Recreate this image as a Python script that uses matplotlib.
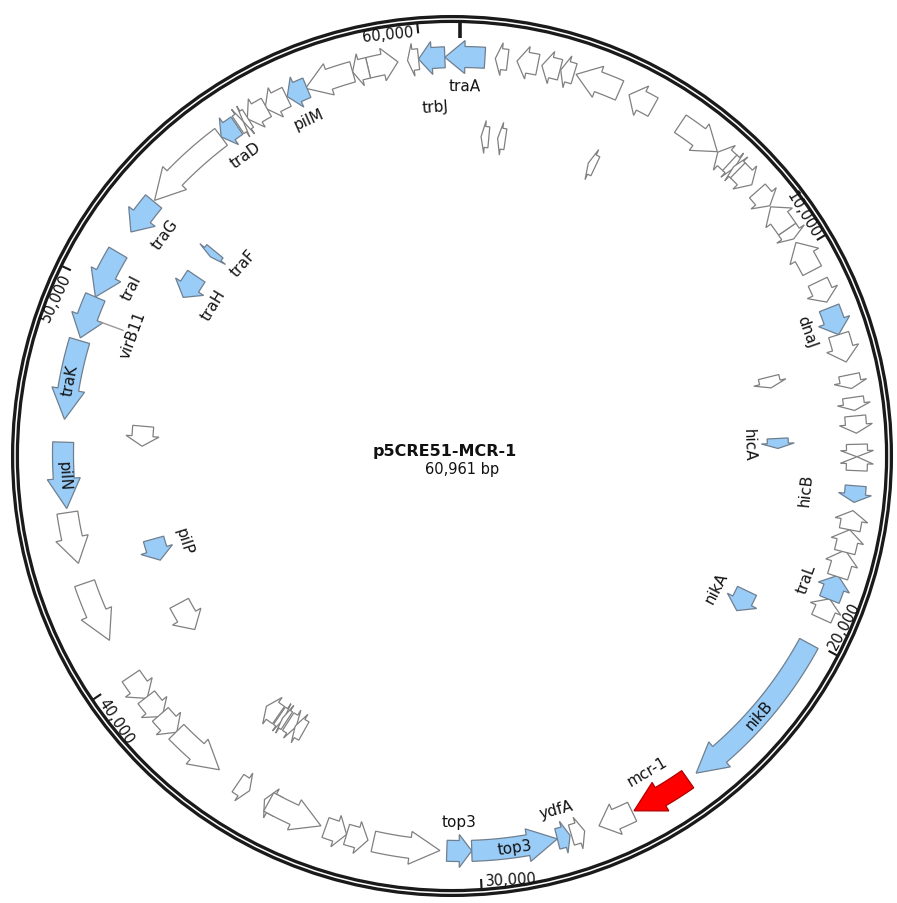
import numpy as np
import matplotlib.pyplot as plt
from matplotlib.patches import Polygon, Circle

TOTAL = 60961
CX, CY = 460, 455
RING_C = (452, 457)
R_RING = 437
TRACK_R = [397, 318]

# gene table: start/end in bp, strand, track (0 outer, 1 inner), kind, label, label mode
gene_start = [60590, 59946, 59675, 58693, 58303, 57084, 56594, 55984, 55476, 55205, 55357,
              54697, 52444, 51479, 49667, 48601, 46569, 44384, 43012, 40980, 39287, 38711,
              38186, 36798, 35900, 35087, 33953, 33292, 32750, 30972, 30193, 28077, 27755,
              27382, 26129, 24554, 20067, 18864, 18255, 17611, 17103, 16629, 16019, 15003,
              15308, 14309, 13852, 13293, 12277, 11583, 10888, 9788, 9398, 8721, 8213,
              6858, 7248, 7383, 7519, 5707, 4267, 2879, 2489, 2015, 1397, 864,
              643, 1151, 4030, 12870, 14766, 19558, 36374, 36171, 36069, 35730, 35459,
              40048, 42419, 45958, 50716, 52207]
gene_end = [610, 60590, 59946, 59438, 58693, 58303, 57118, 56577, 56018, 55357, 55493,
            55171, 54697, 52410, 50887, 49667, 48533, 46010, 44283, 42504, 39964, 39321,
            38779, 38203, 36239, 35477, 35358, 33834, 33292, 32615, 30803, 30193, 28077,
            27721, 27010, 26078, 24300, 19389, 18881, 18289, 17662, 17103, 16426, 15308,
            15647, 14732, 14174, 13632, 12971, 12277, 11430, 10584, 9686, 9398, 8687,
            7282, 7417, 7553, 8010, 6841, 4928, 4013, 2828, 2472, 1914, 1168,
            881, 1389, 4267, 13208, 15071, 20236, 36831, 36340, 36221, 36018, 35764,
            40980, 43097, 46569, 51478, 52427]
gene_strand = [-1, -1, -1, 1, -1, -1, -1, -1, -1, 1, -1,
               -1, -1, -1, -1, -1, -1, -1, -1, -1, -1, -1,
               -1, -1, -1, 1, -1, -1, -1, -1, -1, -1, -1,
               -1, 1, 1, 1, -1, -1, -1, -1, -1, 1, 1,
               -1, 1, 1, 1, 1, 1, 1, -1, 1, -1, 1,
               -1, 1, -1, 1, 1, -1, -1, -1, -1, -1, -1,
               -1, -1, -1, 1, 1, 1, 1, -1, 1, -1, 1,
               -1, -1, -1, -1, -1]
gene_track = [0] * 66 + [1] * 16
gene_kind = ['o'] * 82
gene_label = [''] * 82
label_mode = [0] * 82
label_shift = [0.0] * 82

named = {0: ('traA', 1), 1: ('trbJ', 2), 6: ('pilM', 1), 11: ('traD', 1), 13: ('traG', 1),
         14: ('traI', 1), 15: ('virB11', 3), 16: ('traK', 9), 17: ('pilN', 9),
         30: ('top3', 1), 31: ('top3', 9), 32: ('ydfA', 1), 35: ('mcr-1', 1),
         36: ('nikB', 9), 38: ('traL', 1), 42: ('hicB', 2), 49: ('dnaJ', 1),
         70: ('hicA', 1), 71: ('nikA', 1), 78: ('pilP', 1), 80: ('traH', 1), 81: ('traF', 1)}
for i, (nm, md) in named.items():
    gene_label[i] = nm
    label_mode[i] = md
    gene_kind[i] = 'b'
gene_kind[35] = 'r'
label_shift[81] = 2.5
label_shift[80] = -0.5

fills = {'o': 'white', 'b': '#99ccf7', 'r': '#ff0000'}
edges = {'o': '#808080', 'b': '#6f7f8f', 'r': '#b00000'}

tick_pos = [0, 10000, 20000, 30000, 40000, 50000, 60000]
title = 'p5CRE51-MCR-1'
subtitle = '60,961 bp'


def ang(bp):
    return bp / TOTAL * 360.0


def pol(a, r):
    t = np.radians(a)
    return (CX + r * np.sin(t), CY - r * np.cos(t))


def ring_hit(a):
    # distance along the ray from the map centre to the backbone ring
    t = np.radians(a)
    d = np.array([np.sin(t), -np.cos(t)])
    o = np.array([CX - RING_C[0], CY - RING_C[1]])
    b = o @ d
    return -b + np.sqrt(b * b - (o @ o - R_RING ** 2))


def arrow_poly(a0, a1, strand, r, w=21, hw=33, hl_max=30):
    L = np.radians(a1 - a0) * r
    hl = min(0.5 * L, hl_max)
    ha = np.degrees(hl / r)
    if strand > 0:
        b0, b1, tip = a0, a1 - ha, a1
    else:
        b0, b1, tip = a1, a0 + ha, a0
    n = max(2, int(abs(b1 - b0) * 3) + 2)
    body = np.linspace(b0, b1, n)
    pts = [pol(a, r + w / 2) for a in body]
    pts += [pol(b1, r + hw / 2), pol(tip, r), pol(b1, r - hw / 2)]
    pts += [pol(a, r - w / 2) for a in body[::-1]]
    return pts


def text_rot(a):
    a = a % 360
    if 90 < a < 270:
        return 180 - a
    return -a


fig = plt.figure(figsize=(8.97, 9.04), dpi=100)
ax = fig.add_axes([0, 0, 1, 1])
ax.set_xlim(0, 897)
ax.set_ylim(904, 0)
ax.axis('off')

# backbone ring
ax.add_patch(Circle(RING_C, R_RING, fill=False, ec='#1a1a1a', lw=5.8))
ax.add_patch(Circle(RING_C, R_RING, fill=False, ec='white', lw=1.1))

# ticks and tick labels
for t in tick_pos:
    a = ang(t)
    rh = ring_hit(a)
    if t == 0:
        p0, p1 = pol(a, rh - 3), pol(a, rh - 19)
        ax.plot([p0[0], p1[0]], [p0[1], p1[1]], color='#1a1a1a', lw=2.6, solid_capstyle='butt')
        continue
    p0, p1 = pol(a, rh - 3), pol(a, rh - 13)
    ax.plot([p0[0], p1[0]], [p0[1], p1[1]], color='#1a1a1a', lw=1.5, solid_capstyle='butt')
    tx, ty = pol(a - 0.6, rh - 11)
    top = not (90 < a % 360 < 270)
    ax.text(tx, ty, f'{t:,}', rotation=text_rot(a), rotation_mode='anchor',
            ha='right' if top else 'left', va='center', fontsize=10.5,
            family='DejaVu Sans', color='#111111')

# genes
for i in range(len(gene_start)):
    s, e = gene_start[i], gene_end[i]
    if e < s:
        e += TOTAL
    a0, a1 = ang(s), ang(e)
    r = TRACK_R[gene_track[i]]
    k = gene_kind[i]
    ax.add_patch(Polygon(arrow_poly(a0, a1, gene_strand[i], r), closed=True,
                         fc=fills[k], ec=edges[k], lw=0.9, joinstyle='miter'))
    if not gene_label[i]:
        continue
    am = (a0 + a1) / 2 + label_shift[i]
    md = label_mode[i]
    if md == 9:
        rr = r
    elif md == 1:
        rr = r - 29
    else:
        rr = r - 49
    if md == 3:
        q0, q1 = pol(am, r - 14), pol(am, r - 38)
        ax.plot([q0[0], q1[0]], [q0[1], q1[1]], color='#999999', lw=1.0)
    x, y = pol(am, rr)
    ax.text(x, y, gene_label[i], rotation=text_rot(am), rotation_mode='anchor',
            ha='center', va='center', fontsize=11, family='DejaVu Sans', color='#111111')

ax.text(445, 452, title, ha='center', va='center', fontsize=11.5, fontweight='bold',
        family='DejaVu Sans', color='#111111')
ax.text(462, 470, subtitle, ha='center', va='center', fontsize=10.5,
        family='DejaVu Sans', color='#111111')

fig.savefig('out.png', dpi=100, facecolor='white')
